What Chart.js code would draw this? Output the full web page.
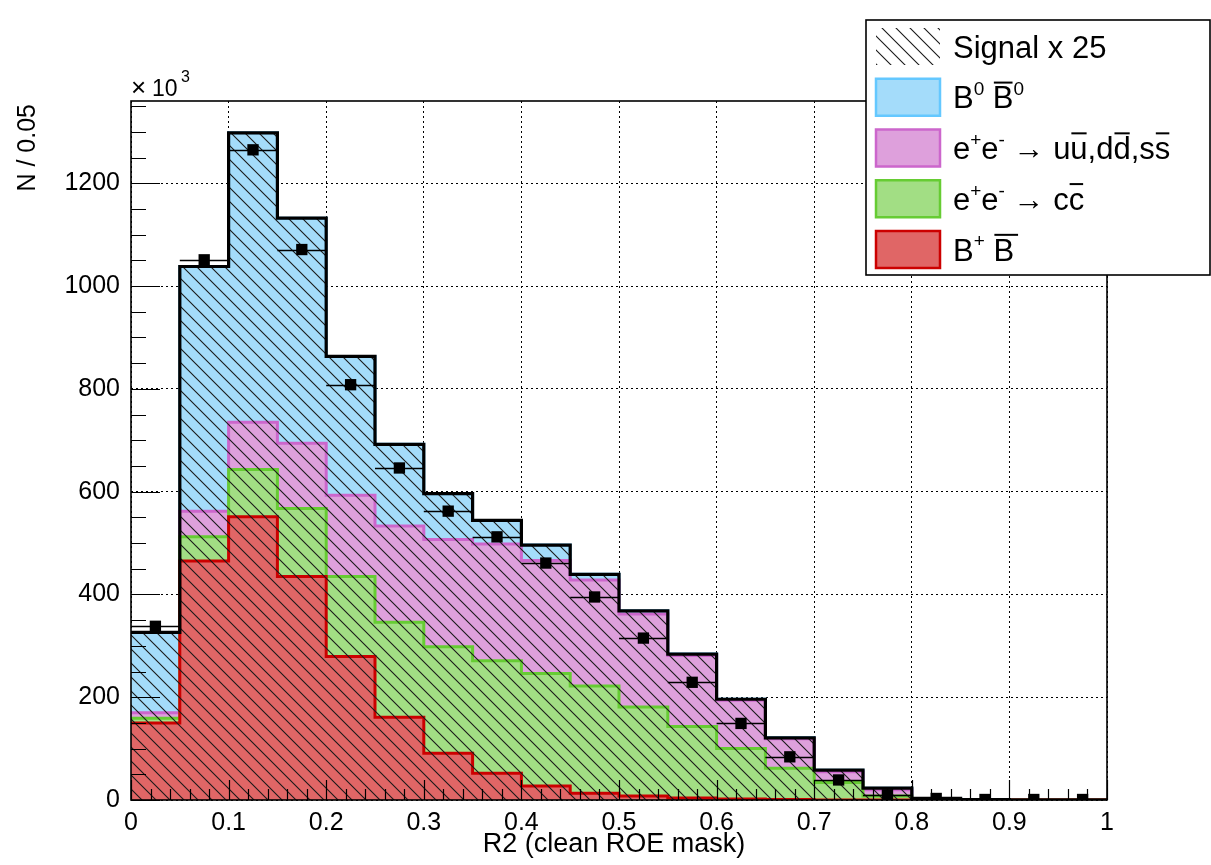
<!DOCTYPE html>
<html>
<head>
<meta charset="utf-8">
<script src="https://cdn.jsdelivr.net/npm/chart.js@4.4.1/dist/chart.umd.min.js"></script>
<style>
  html, body { margin: 0; padding: 0; background: #fff; }
  canvas { display: block; }
</style>
</head>
<body>
<canvas id="chart" width="1211" height="865"></canvas>
<script>
// R2 histogram, 20 bins of 0.05, values in units of 10^3
const binEdges = [0, 0.05, 0.1, 0.15, 0.2, 0.25, 0.3, 0.35, 0.4, 0.45, 0.5,
                  0.55, 0.6, 0.65, 0.7, 0.75, 0.8, 0.85, 0.9, 0.95, 1];

const bChargedBkg = [150, 465, 551, 435, 279, 161, 91, 52, 27, 13, 8, 4, 2, 1, 0, 0, 0, 0, 0, 0];
const ccbarBkg    = [9, 47, 92, 132, 156, 185, 207, 219, 219, 209, 173, 139, 98, 61, 34, 8, 1, 0, 0, 0];
const udsBkg      = [11, 50, 92, 127, 158, 187, 209, 227, 220, 206, 181, 138, 94, 57, 21, 12, 1, 1, 0, 0];
const bMixedBkg   = [156, 476, 563, 438, 270, 159, 89, 46, 30, 11, 6, 3, 2, 2, 3, 3, 1, 0, 0, 0];
const signalX25   = [326, 1038, 1298, 1132, 863, 692, 596, 544, 496, 439, 368, 284, 196, 121, 58, 23, 3, 1, 0, 0];
const dataCounts  = [338, 1051, 1265, 1071, 808, 646, 562, 512, 461, 395, 315, 229, 149, 84, 39, 10, 3, 1, 1, 1];

const yTickValues = [0, 200, 400, 600, 800, 1000, 1200];

const FONT = "'Liberation Sans', Arial, Helvetica, sans-serif";

const FILL = {
  blue:    'rgb(164,220,250)',
  magenta: 'rgb(222,160,220)',
  green:   'rgb(162,222,132)',
  red:     'rgb(224,102,102)',
};
const LINE = {
  blue:    'rgb(100,200,255)',
  magenta: 'rgb(204,102,204)',
  green:   'rgb(102,204,51)',
  red:     'rgb(204,0,0)',
};

/** 45 degree "\" hatch, like ROOT fill style 3005 */
function makeHatch(size) {
  const c = document.createElement('canvas');
  c.width = c.height = size;
  const g = c.getContext('2d');
  g.strokeStyle = '#1a1a1a';
  g.lineWidth = 1.1;
  g.beginPath();
  g.moveTo(0, 0); g.lineTo(size, size);
  g.moveTo(-2, size - 2); g.lineTo(2, size + 2);
  g.moveTo(size - 2, -2); g.lineTo(size + 2, 2);
  g.stroke();
  return g.createPattern(c, 'repeat');
}
const hatch = makeHatch(14);

/** step points at the bin edges */
function histPoints(vals) {
  const pts = [{ x: binEdges[0], y: vals[0] }];
  vals.forEach((v, i) => pts.push({ x: binEdges[i + 1], y: v }));
  return pts;
}
function stackUp(...layers) {
  return layers[0].map((_, i) => layers.reduce((s, l) => s + l[i], 0));
}

const cumRed   = bChargedBkg;
const cumGreen = stackUp(bChargedBkg, ccbarBkg);
const cumMag   = stackUp(bChargedBkg, ccbarBkg, udsBkg);
const cumBlue  = stackUp(bChargedBkg, ccbarBkg, udsBkg, bMixedBkg);

// stepped 'after': vertical at the left edge, then flat across the bin
const histDs = (label, vals, fill, line, order) => ({
  label,
  data: histPoints(vals),
  stepped: 'after',
  fill: 'origin',
  backgroundColor: fill,
  borderColor: line,
  borderWidth: 3,
  pointRadius: 0,
  order,
});

// ---- ROOT-like decorations ----
function richText(ctx, x, y, parts, size) {
  const supSize = Math.round(size * 0.62);
  for (const p of parts) {
    if (p.sup) {
      ctx.font = `${supSize}px ${FONT}`;
      ctx.fillText(p.t, x, y - size * 0.42);
      x += ctx.measureText(p.t).width;
    } else {
      ctx.font = `${size}px ${FONT}`;
      ctx.fillText(p.t, x, y);
      const w = ctx.measureText(p.t).width;
      if (p.over) {
        ctx.fillRect(x + 1, y - size * 0.86, w - 2 + (p.extra || 0), 2);
      }
      x += w;
    }
  }
}

const legendRows = [
  { swatch: 'hatch', parts: [{ t: 'Signal x 25' }] },
  { swatch: 'blue', parts: [{ t: 'B' }, { t: '0', sup: true }, { t: ' ' }, { t: 'B', over: true }, { t: '0', sup: true }] },
  { swatch: 'magenta', parts: [{ t: 'e' }, { t: '+', sup: true }, { t: 'e' }, { t: '-', sup: true },
      { t: ' \u2192 u' }, { t: 'u', over: true }, { t: ',d' }, { t: 'd', over: true }, { t: ',s' }, { t: 's', over: true }] },
  { swatch: 'green', parts: [{ t: 'e' }, { t: '+', sup: true }, { t: 'e' }, { t: '-', sup: true },
      { t: ' \u2192 c' }, { t: 'c', over: true }] },
  { swatch: 'red', parts: [{ t: 'B' }, { t: '+', sup: true }, { t: ' ' }, { t: 'B', over: true, extra: 5 }] },
];

const rootStyle = {
  id: 'rootStyle',
  afterDatasetsDraw(chart) {
    const { ctx, chartArea: a, scales: { x, y } } = chart;
    ctx.save();
    // horizontal error bars of the data
    ctx.strokeStyle = '#000';
    ctx.lineWidth = 1.5;
    ctx.beginPath();
    dataCounts.forEach((v, i) => {
      const py = Math.round(y.getPixelForValue(v)) + 0.5;
      ctx.moveTo(x.getPixelForValue(binEdges[i]), py);
      ctx.lineTo(x.getPixelForValue(binEdges[i + 1]), py);
    });
    ctx.stroke();

    // inward tick marks
    ctx.lineWidth = 1.2;
    ctx.beginPath();
    for (let k = 0; k <= 50; k++) {
      const px = Math.round(x.getPixelForValue(k * 0.02)) + 0.5;
      const len = k % 5 === 0 ? 20 : 11;
      ctx.moveTo(px, a.bottom); ctx.lineTo(px, a.bottom - len);
    }
    for (let v = 0; v <= y.max; v += 50) {
      const py = Math.round(y.getPixelForValue(v)) + 0.5;
      const len = v % 200 === 0 ? 29 : 15;
      ctx.moveTo(a.left, py); ctx.lineTo(a.left + len, py);
    }
    ctx.stroke();

    // frame
    ctx.lineWidth = 1.6;
    ctx.strokeRect(a.left, a.top, a.right - a.left, a.bottom - a.top);
    ctx.restore();
  },
  afterDraw(chart) {
    const { ctx, chartArea: a } = chart;
    ctx.save();
    ctx.fillStyle = '#000';
    ctx.textBaseline = 'alphabetic';

    // axis titles
    ctx.font = `27px ${FONT}`;
    ctx.textAlign = 'center';
    ctx.fillText('R2 (clean ROE mask)', (a.left + a.right) / 2 - 5, 852);

    ctx.save();
    ctx.translate(35, a.top + 3);
    ctx.rotate(-Math.PI / 2);
    ctx.textAlign = 'right';
    ctx.font = `25px ${FONT}`;
    ctx.fillText('N / 0.05', 0, 0);
    ctx.restore();

    // exponent label (x10^3)
    ctx.textAlign = 'left';
    ctx.font = `26px ${FONT}`;
    ctx.fillText('\u00d7', a.left, 96);
    ctx.font = `23px ${FONT}`;
    ctx.fillText('10', a.left + 21, 96);
    ctx.font = `16px ${FONT}`;
    ctx.fillText('3', a.left + 50, 82);

    // legend
    const L = { x: 866, y: 20, w: 344, h: 255 };
    ctx.fillStyle = '#fff';
    ctx.fillRect(L.x, L.y, L.w, L.h);
    ctx.strokeStyle = '#000';
    ctx.lineWidth = 1.6;
    ctx.strokeRect(L.x, L.y, L.w, L.h);

    legendRows.forEach((row, i) => {
      const top = 28 + i * 50.75;
      const sx = 876, sw = 64, sh = 37;
      if (row.swatch === 'hatch') {
        ctx.fillStyle = hatch;
        ctx.fillRect(sx, top, sw, sh);
      } else {
        ctx.fillStyle = FILL[row.swatch];
        ctx.fillRect(sx, top, sw, sh);
        ctx.strokeStyle = LINE[row.swatch];
        ctx.lineWidth = 2.5;
        ctx.strokeRect(sx, top, sw, sh);
      }
      ctx.fillStyle = '#000';
      richText(ctx, 953, top + sh / 2 + 11, row.parts, 31);
    });
    ctx.restore();
  },
};

new Chart(document.getElementById('chart'), {
  type: 'line',
  data: {
    datasets: [
      {
        label: 'Data',
        data: dataCounts.map((v, i) => ({ x: (binEdges[i] + binEdges[i + 1]) / 2, y: v })),
        showLine: false,
        pointStyle: 'rect',
        pointRadius: 8,
        pointBackgroundColor: '#000',
        pointBorderWidth: 0,
        order: 0,
      },
      {
        label: 'Signal x 25',
        data: histPoints(signalX25),
        stepped: 'after',
        fill: 'origin',
        backgroundColor: hatch,
        borderColor: '#000',
        borderWidth: 3.2,
        pointRadius: 0,
        order: 1,
      },
      histDs('B+ B-', cumRed, FILL.red, LINE.red, 2),
      histDs('e+e- -> cc', cumGreen, FILL.green, LINE.green, 3),
      histDs('e+e- -> uu,dd,ss', cumMag, FILL.magenta, LINE.magenta, 4),
      histDs('B0 B0bar', cumBlue, FILL.blue, LINE.blue, 5),
    ],
  },
  options: {
    responsive: false,
    animation: false,
    events: [],
    layout: { padding: { left: 0, right: 104, top: 101, bottom: 0 } },
    plugins: {
      legend: { display: false },
      tooltip: { enabled: false },
    },
    scales: {
      x: {
        type: 'linear',
        min: 0,
        max: 1,
        afterFit(s) { s.height = 65; },
        grid: { color: '#000', lineWidth: 1, drawTicks: false },
        border: { display: false, dash: [2, 3] },
        ticks: {
          stepSize: 0.1,
          autoSkip: false,
          maxRotation: 0,
          padding: 8,
          color: '#000',
          font: { family: FONT, size: 25 },
          callback: v => String(parseFloat(v.toFixed(2))),
        },
      },
      y: {
        type: 'linear',
        min: 0,
        max: 1360,
        afterFit(s) { s.width = 131; },
        afterBuildTicks(s) { s.ticks = yTickValues.map(v => ({ value: v })); },
        grid: { color: '#000', lineWidth: 1, drawTicks: false },
        border: { display: false, dash: [2, 3] },
        ticks: {
          padding: 11,
          color: '#000',
          font: { family: FONT, size: 25 },
          callback: v => String(v),
        },
      },
    },
  },
  plugins: [rootStyle],
});
</script>
</body>
</html>
